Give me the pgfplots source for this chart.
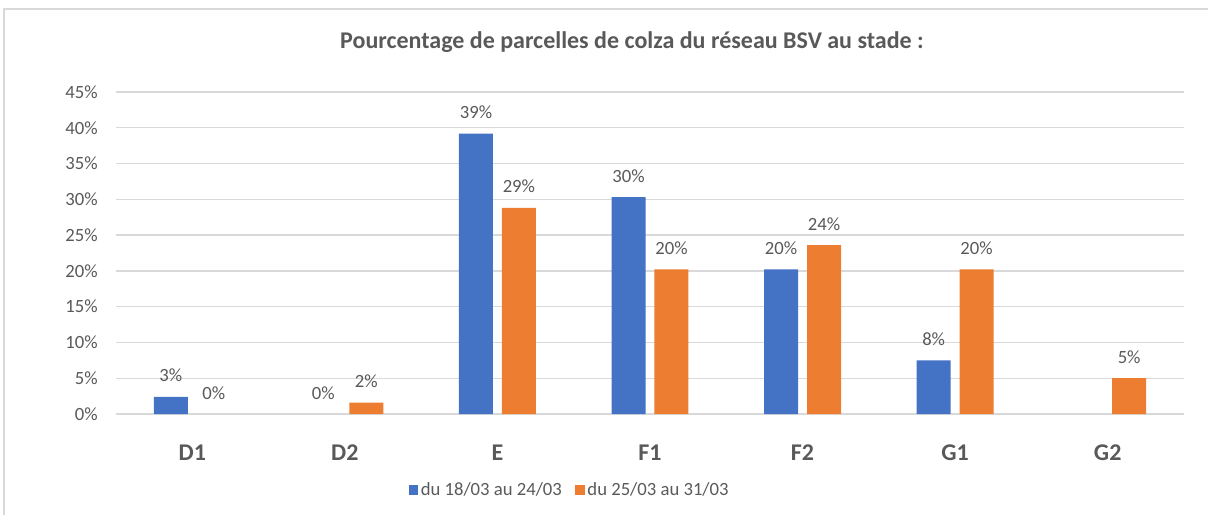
\documentclass[border=0pt]{standalone}
\usepackage{fontspec}
\setmainfont{Carlito}
\usepackage{pgfplots}
\usepackage{pgfplotstable}
\pgfplotsset{compat=1.18}
\definecolor{cblue}{HTML}{4472C4}
\definecolor{corange}{HTML}{ED7D31}
\definecolor{txt}{HTML}{595959}
\definecolor{gridc}{HTML}{D9D9D9}

\pgfplotstableread{
x y lab
0 2.4 3
2 39.2 39
3 30.3 30
4 20.2 20
5 7.5 8
}\bluetab
\pgfplotstableread{
x y lab
1 0 0
}\bluezero
\pgfplotstableread{
x y lab
1 1.6 2
2 28.8 29
3 20.2 20
4 23.6 24
5 20.2 20
6 5.0 5
}\orangetab
\pgfplotstableread{
x y lab
0 0 0
}\orangezero

\begin{document}
\begin{tikzpicture}
\useasboundingbox (0,0) rectangle (906pt,-386.25pt);
\draw[gridc, line width=1.5pt] (3pt,-386.25pt) -- (3pt,-6.75pt) -- (906pt,-6.75pt);
\node[txt, font=\fontsize{18}{20}\selectfont\bfseries] at (474pt,-31.5pt) {Pourcentage de parcelles de colza du réseau BSV au stade :};
\begin{axis}[
  at={(87pt,-310.5pt)}, anchor=south west,
  scale only axis, width=801pt, height=241.5pt,
  xmin=-0.5, xmax=6.5, ymin=0, ymax=45,
  ybar, bar width=25.5pt,
  axis line style={draw=none},
  tick style={draw=none},
  ymajorgrids, grid style={gridc, line width=1pt},
  ytick={0,5,...,45},
  yticklabels={0\%,5\%,10\%,15\%,20\%,25\%,30\%,35\%,40\%,45\%},
  yticklabel style={anchor=east, inner sep=0pt, xshift=-13.5pt, text=txt, font=\fontsize{14}{16}\selectfont},
  xtick={0,...,6},
  xticklabels={D1,D2,E,F1,F2,G1,G2},
  xticklabel style={anchor=base, inner sep=0pt, yshift=-30.75pt, text=txt, font=\fontsize{18}{20}\selectfont\bfseries},
  point meta=explicit symbolic,
  nodes near coords={\pgfplotspointmeta\%},
  nodes near coords style={anchor=base, inner sep=0pt, yshift=11.25pt, text=txt, font=\fontsize{14}{16}\selectfont},
  legend style={at={(0.425,-0.236)}, anchor=center, draw=none, fill=none, legend columns=2,
    font=\fontsize{14}{16}\selectfont, text=txt,
    /tikz/every even column/.append style={column sep=8pt}},
  legend image code/.code={\fill[#1] (0pt,-3.6pt) rectangle (7.2pt,3.6pt);},
]
\addplot[fill=cblue, draw=none, bar shift=-16.1pt] table[x=x, y=y, meta=lab] {\bluetab};
\addlegendentry{du 18/03 au 24/03}
\addplot[fill=corange, draw=none, bar shift=16.1pt] table[x=x, y=y, meta=lab] {\orangetab};
\addlegendentry{du 25/03 au 31/03}
\addplot[draw=none, fill=none, bar shift=-16.1pt, forget plot] table[x=x, y=y, meta=lab] {\bluezero};
\addplot[draw=none, fill=none, bar shift=16.1pt, forget plot] table[x=x, y=y, meta=lab] {\orangezero};
\end{axis}
\end{tikzpicture}
\end{document}
